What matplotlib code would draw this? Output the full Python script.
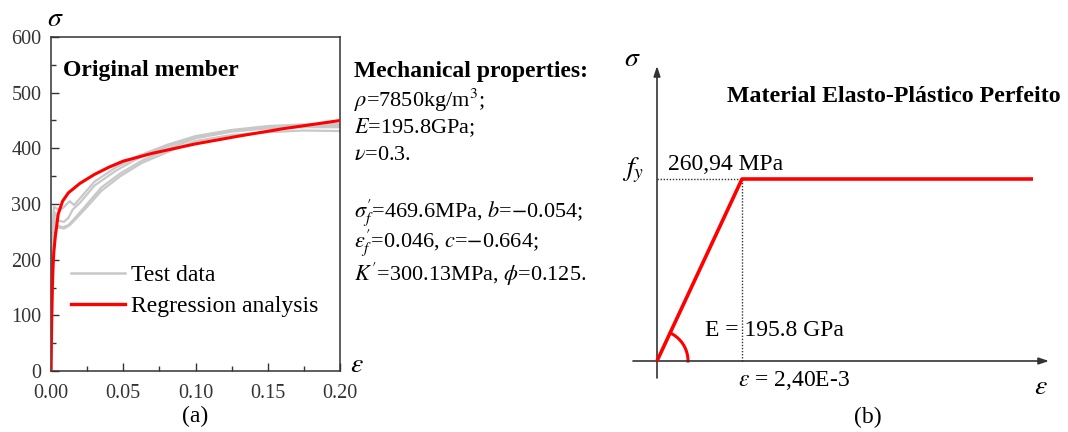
import numpy as np
import matplotlib
matplotlib.use("Agg")
import matplotlib.pyplot as plt
from matplotlib.ticker import MultipleLocator
from matplotlib.lines import Line2D

plt.rcParams['font.family'] = ['Liberation Serif', 'DejaVu Serif']
plt.rcParams['mathtext.fontset'] = 'stix'

# ---------------- data: panel (a) ----------------
reg_eps = [0, 0.0005, 0.001, 0.0015, 0.002, 0.003, 0.005, 0.008, 0.012, 0.02,
           0.03, 0.04, 0.05, 0.07, 0.10, 0.13, 0.16, 0.20]
reg_sig = [0, 90, 155, 192, 215, 242, 282, 305, 320, 337,
           353, 366, 377, 391, 408, 422, 435, 450]

test1_eps = [0, 0.0012, 0.002, 0.005, 0.008, 0.011, 0.013, 0.016, 0.02, 0.03, 0.045,
             0.06, 0.08, 0.10, 0.125, 0.15, 0.175, 0.20]
test1_sig = [0, 240, 295, 290, 292, 300, 305, 298, 310, 340, 366,
             386, 406, 422, 433, 440, 443, 444]
test2_eps = [0, 0.0012, 0.002, 0.004, 0.008, 0.012, 0.017, 0.025, 0.035, 0.048,
             0.063, 0.082, 0.10, 0.125, 0.15, 0.175, 0.20]
test2_sig = [0, 240, 280, 262, 258, 262, 276, 300, 330, 355,
             378, 400, 418, 430, 436, 438, 438]
test3_eps = [0, 0.0012, 0.002, 0.005, 0.009, 0.013, 0.016, 0.025, 0.035, 0.048,
             0.063, 0.085, 0.10, 0.125, 0.15, 0.175, 0.20]
test3_sig = [0, 235, 270, 258, 256, 262, 270, 295, 324, 350,
             374, 398, 413, 424, 429, 432, 431]
test4_eps = [0, 0.0012, 0.002, 0.005, 0.009, 0.012, 0.015, 0.02, 0.03, 0.045,
             0.06, 0.08, 0.10, 0.125, 0.15, 0.175, 0.20]
test4_sig = [0, 238, 288, 270, 268, 275, 290, 302, 333, 360,
             382, 403, 420, 431, 437, 440, 440]
tests = [(test1_eps, test1_sig), (test2_eps, test2_sig),
         (test3_eps, test3_sig), (test4_eps, test4_sig)]

x_ticks = [0.00, 0.05, 0.10, 0.15, 0.20]
x_ticklabels = ["0.00", "0.05", "0.10", "0.15", "0.20"]
y_ticks = [0, 100, 200, 300, 400, 500, 600]

props_lines = [
    r"$\rho$=7850kg/m$^3$;",
    r"$E$=195.8GPa;",
    r"$\nu$=0.3.",
    r"$\sigma_f^{\prime}$=469.6MPa, $b$=$-$0.054;",
    r"$\varepsilon_f^{\prime}$=0.046, $c$=$-$0.664;",
    r"$K'$=300.13MPa, $\phi$=0.125.",
]

# ---------------- data: panel (b) ----------------
E_GPa = 195.8
fy = 260.94
eps_y = 2.40e-3
eps_end = 0.010616
bl_eps = [0, eps_y, eps_end]
bl_sig = [0, fy, fy]

W, H = 1068, 432
fig = plt.figure(figsize=(W / 100, H / 100), dpi=100)

def fx(px):
    return px / W

def fy_(py):
    return 1 - py / H

DARK = '#333333'

# ---------------- panel (a) ----------------
ax = fig.add_axes([fx(51), fy_(371), (340 - 51) / W, (371 - 37) / H])
for e, s in tests:
    ax.plot(e, s, color='#c8c8c8', lw=1.6, zorder=2)
ax.plot(reg_eps, reg_sig, color='#ff0000', lw=2.2, zorder=3)
ax.set_xlim(0, 0.2)
ax.set_ylim(0, 600)
ax.set_xticks(x_ticks)
ax.set_xticklabels(x_ticklabels)
ax.set_yticks(y_ticks)
ax.xaxis.set_minor_locator(MultipleLocator(0.025))
ax.yaxis.set_minor_locator(MultipleLocator(50))
ax.tick_params(which='both', direction='in', color=DARK, labelcolor=DARK,
               labelsize=14.5, width=1.0)
ax.tick_params(which='major', length=6)
ax.tick_params(which='minor', length=3.5)
ax.tick_params(axis='x', pad=9)
ax.tick_params(axis='y', pad=7)
for sp in ax.spines.values():
    sp.set_linewidth(1.1)
    sp.set_color(DARK)

ax.text(0.04, 0.9, "Original member", transform=ax.transAxes, fontsize=17,
        fontweight='bold', va='center', ha='left')
h1 = Line2D([], [], color='#c8c8c8', lw=1.8)
h2 = Line2D([], [], color='#ff0000', lw=2.4)
leg = ax.legend([h1, h2], ["Test data", "Regression analysis"], loc='center left',
                bbox_to_anchor=(0.069, 0.24), frameon=False, fontsize=17,
                handlelength=2.3, handletextpad=0.25, labelspacing=0.42,
                borderpad=0, borderaxespad=0)

fig.text(fx(55), fy_(20), r"$\sigma$", fontsize=20, ha='center', va='center')
fig.text(fx(357), fy_(366), r"$\varepsilon$", fontsize=20, ha='center', va='center')
fig.text(fx(195), fy_(416), "(a)", fontsize=17, ha='center', va='center')

# mechanical properties text
fig.text(fx(354), fy_(71), "Mechanical properties:", fontsize=17, fontweight='bold',
         ha='left', va='center')
ys = [100, 128, 155, 213, 243, 274]
for t, yy in zip(props_lines, ys):
    fig.text(fx(354), fy_(yy), t, fontsize=16, ha='left', va='center')

# ---------------- panel (b) ----------------
bx = fig.add_axes([fx(600), 0, (W - 600) / W, 1])
px_per_eps = 85 / eps_y
px_per_sig = 182 / fy
bx.set_xlim((600 - 657) / px_per_eps, (W - 657) / px_per_eps)
bx.set_ylim((361 - 432) / px_per_sig, 361 / px_per_sig)
bx.axis('off')

def ex(px):
    return (px - 657) / px_per_eps

def sy(py):
    return (361 - py) / px_per_sig

arrow = dict(arrowstyle='-|>,head_length=0.6,head_width=0.2',
             color=DARK, lw=1.2, shrinkA=0, shrinkB=0)
bx.annotate("", xy=(ex(1049), 0), xytext=(ex(633), 0), arrowprops=arrow)
bx.annotate("", xy=(0, sy(66)), xytext=(0, sy(378)), arrowprops=arrow)
bx.plot([0, eps_y], [fy, fy], color=DARK, lw=1.0, ls=(0, (1, 1.2)))
bx.plot([eps_y, eps_y], [0, fy], color=DARK, lw=1.0, ls=(0, (1, 1.2)))
bx.plot(bl_eps, bl_sig, color='#ff0000', lw=2.6, solid_capstyle='butt', zorder=3)
ang = np.arctan2(182, 85)
t = np.linspace(0, ang, 40)
r = 31
bx.plot(r * np.cos(t) / px_per_eps, r * np.sin(t) / px_per_sig, color='#ff0000', lw=2.2)

fig.text(fx(894), fy_(96), "Material Elasto-Plástico Perfeito", fontsize=17.2,
         fontweight='bold', ha='center', va='center')
fig.text(fx(668), fy_(165), "260,94 MPa", fontsize=17, ha='left', va='center')
fig.text(fx(633), fy_(170), r"$f_y$", fontsize=20, ha='center', va='center')
fig.text(fx(632), fy_(60), r"$\sigma$", fontsize=20, ha='center', va='center')
fig.text(fx(705), fy_(330), "E = 195.8 GPa", fontsize=17, ha='left', va='center')
fig.text(fx(738), fy_(380), r"$\varepsilon$ = 2,40E-3", fontsize=17, ha='left', va='center')
fig.text(fx(1041), fy_(388), r"$\varepsilon$", fontsize=20, ha='center', va='center')
fig.text(fx(868), fy_(417), "(b)", fontsize=17, ha='center', va='center')

fig.savefig("out.png", dpi=100)
